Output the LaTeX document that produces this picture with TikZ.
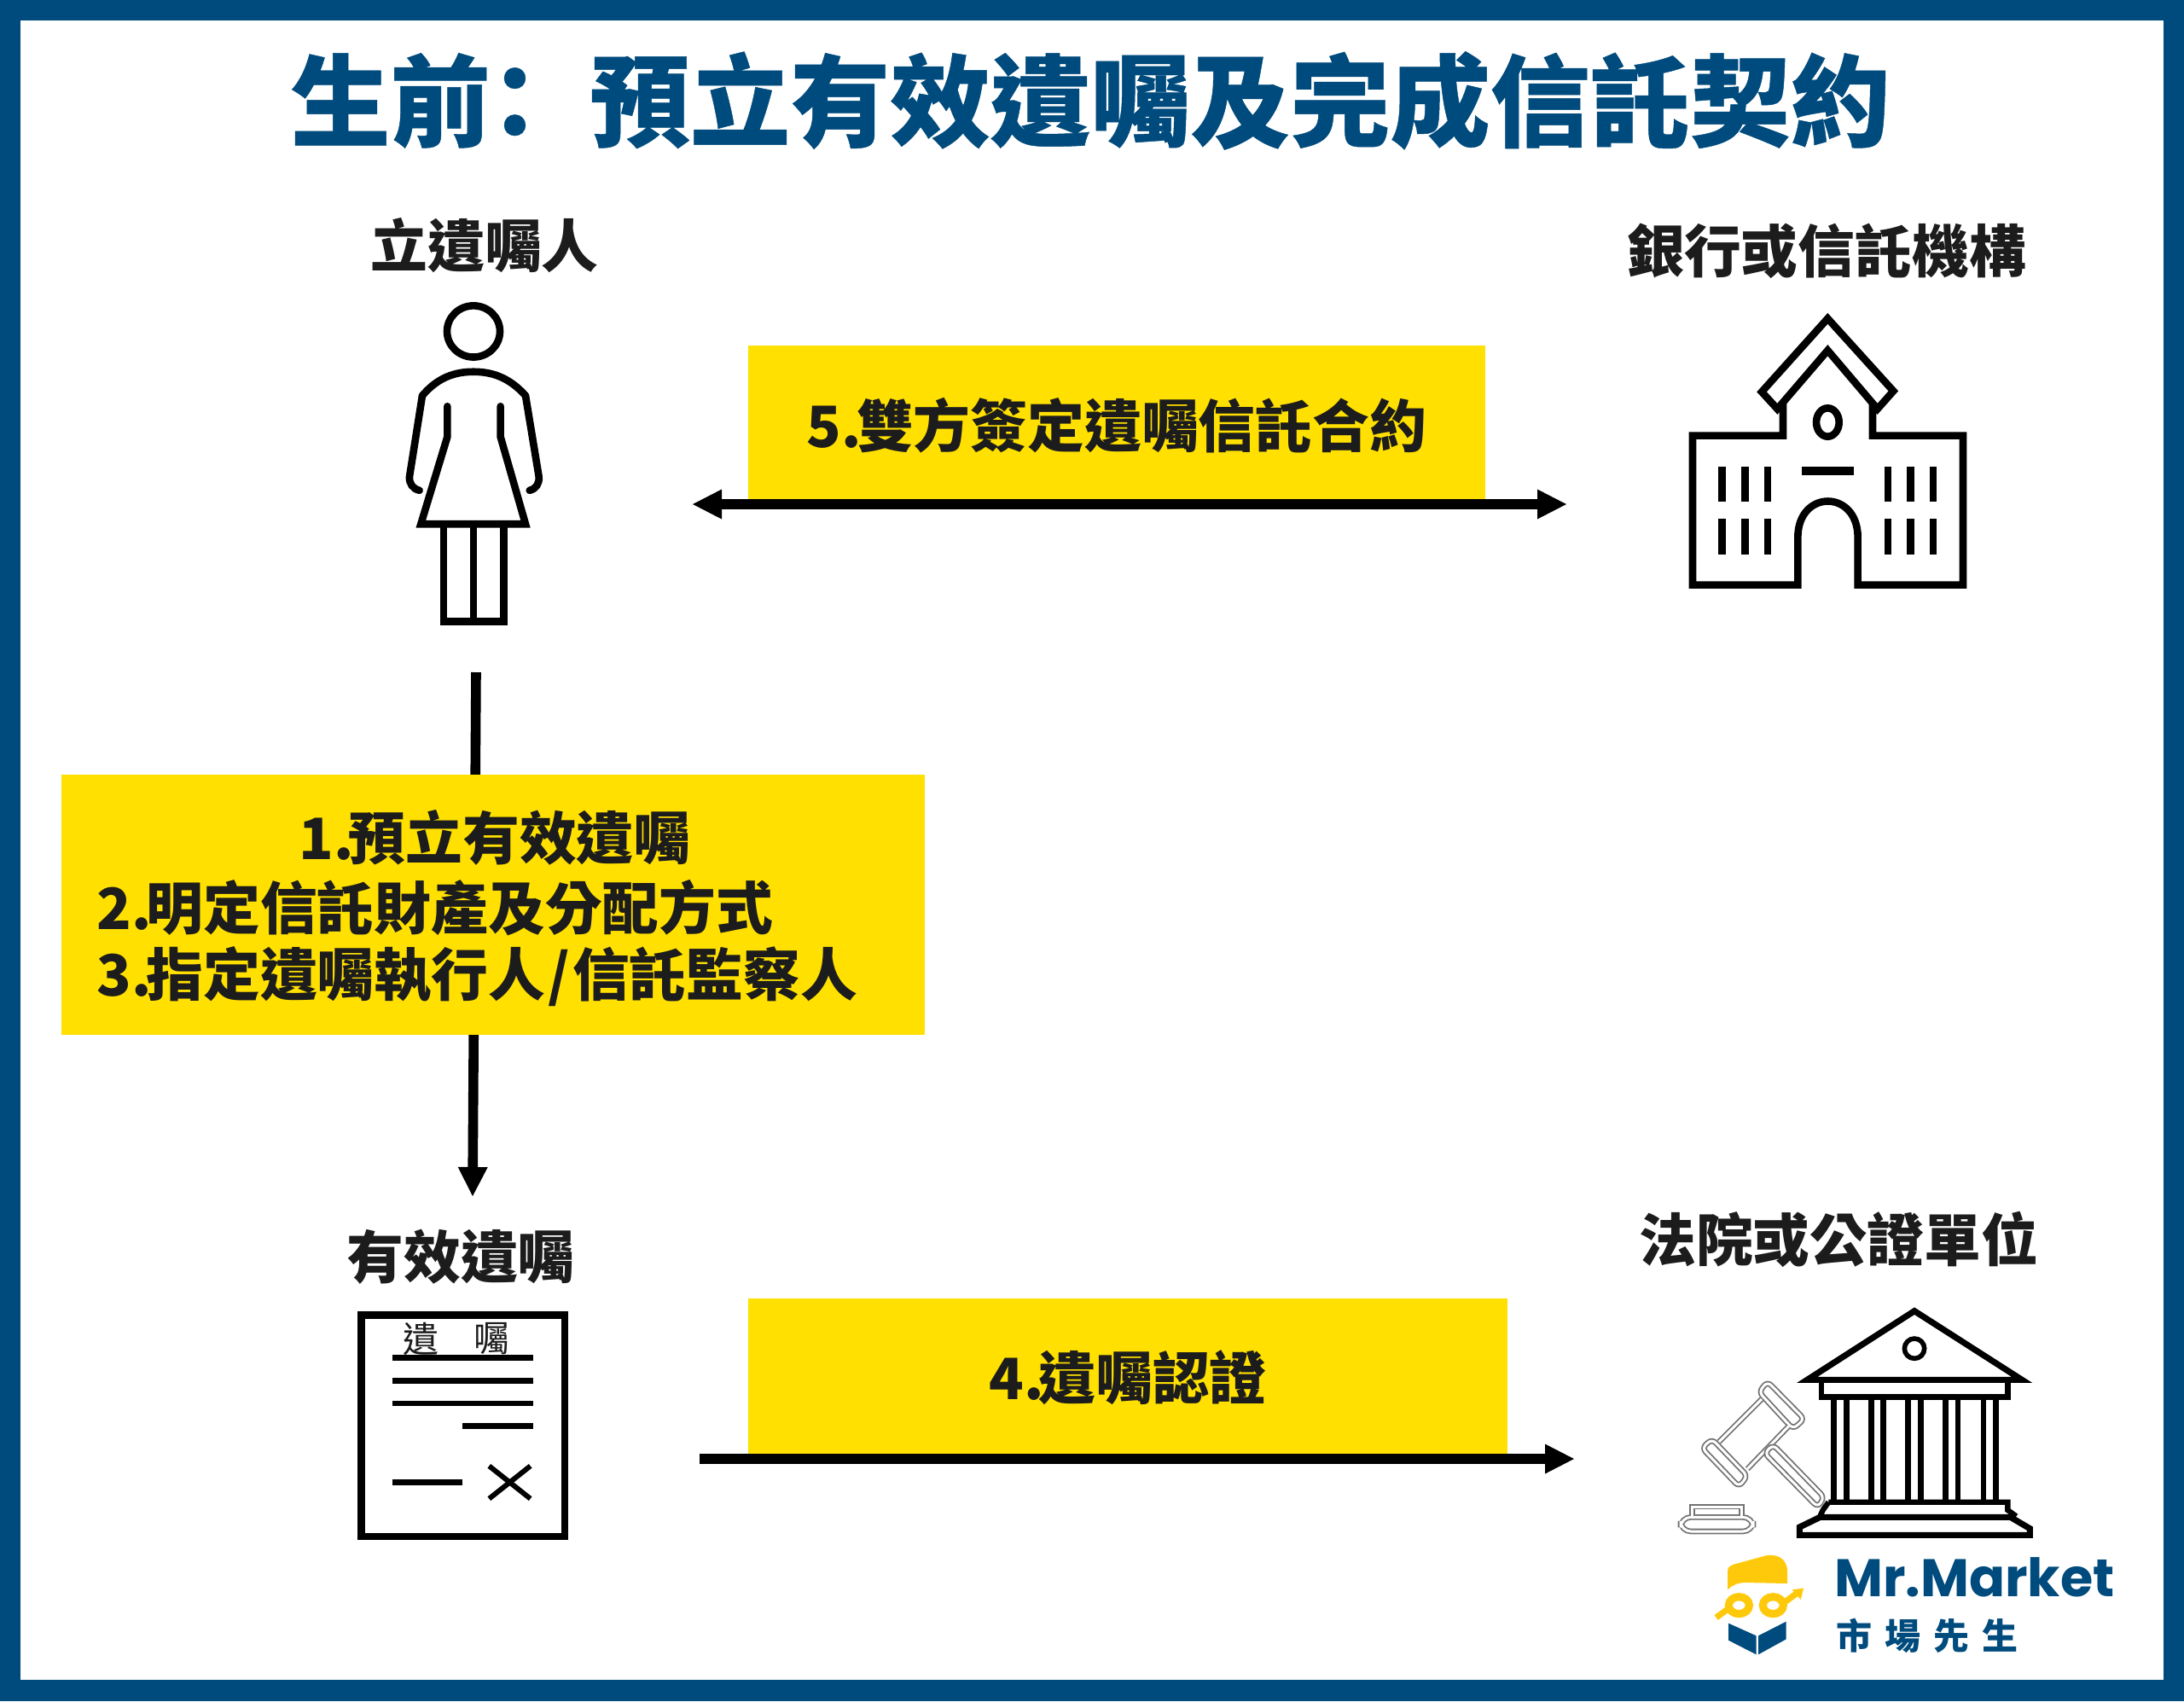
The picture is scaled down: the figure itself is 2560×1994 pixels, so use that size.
\documentclass[tikz,border=0pt]{standalone}
\usepackage{fontspec}
\usetikzlibrary{arrows.meta}
\setmainfont{Noto Sans CJK TC}
\newfontfamily\logofont{Poppins}
\definecolor{navy}{HTML}{004B7D}
\definecolor{boxyellow}{HTML}{FFE000}
\definecolor{hairyellow}{HTML}{FFC90B}
\definecolor{ink}{HTML}{1C1C1C}
\tikzset{
  lbl/.style={font=\fontsize{33.4}{36}\selectfont\bfseries,text=ink,inner sep=0pt},
  boxtxt/.style={font=\fontsize{33.4}{36}\selectfont\bfseries,text=ink,inner sep=0pt},
  ybox/.style={fill=boxyellow,draw=none,inner sep=0pt,anchor=north west},
  conn/.style={line width=5.8pt,black,-{Triangle[length=17pt,width=17.5pt,line width=0pt]}},
  connb/.style={line width=5.8pt,black,{Triangle[length=17pt,width=17.5pt,line width=0pt]}-{Triangle[length=17pt,width=17.5pt,line width=0pt]}},
  icon/.style={line width=4.3pt,black,line join=miter},
  gavel/.style={draw=black!55,line width=0.9pt,double=white,double distance=1.5pt,rounded corners=3pt}
}
\begin{document}
\begin{tikzpicture}[x=0.5pt,y=-0.5pt]
\useasboundingbox (0,0) rectangle (2560,1994);
\fill[navy] (0,0) rectangle (2560,1994);
\fill[white] (24,24) rectangle (2536,1969);
% title
\node[inner sep=0pt,text=navy,font=\fontsize{58.6}{62}\selectfont\bfseries\addfontfeature{FakeBold=0.4}] (title) at (1278,118) {生前\kern-15pt：\kern15pt預立有效遺囑及完成信託契約};
% labels
\node[lbl] (lblA) at (568,288) {立遺囑人};
\node[lbl] (lblB) at (2141,294) {銀行或信託機構};
\node[lbl] (lblC) at (540,1473) {有效遺囑};
\node[lbl] (lblD) at (2155,1453) {法院或公證單位};
% coordinates of connectors
\coordinate (dTop) at (558,788);
\coordinate (dEnd) at (554,1402);
\coordinate (sL) at (812,591);
\coordinate (sR) at (1836,591);
\coordinate (cL) at (820,1710);
\coordinate (cR) at (1845,1710);
\draw[conn] (dTop) -- (dEnd);
% yellow boxes
\node[ybox,minimum width=432pt,minimum height=90pt] (box5) at (877,405) {};
\node[ybox,minimum width=506pt,minimum height=152.5pt] (box1) at (72,908) {};
\node[ybox,minimum width=445pt,minimum height=91pt] (box4) at (877,1522) {};
\node[boxtxt] (t5) at (1309,499) {5.\kern-3pt雙方簽定遺囑信託合約};
\node[boxtxt] (t1) at (580,982) {1.\kern-3pt預立有效遺囑};
\node[boxtxt,anchor=west] (t2) at (113,1064) {2.\kern-3pt明定信託財產及分配方式};
\node[boxtxt,anchor=west] (t3) at (113,1145) {3.\kern-3pt指定遺囑執行人\kern1.6pt/\kern1.6pt信託監察人};
\node[boxtxt] (t4) at (1322,1615) {4.\kern-3pt遺囑認證};
\draw[connb] (sL) -- (sR);
\draw[conn] (cL) -- (cR);
% person
\begin{scope}[shift={(380,220)},x=0.16667pt,y=-0.1792pt]
\draw[icon] (525,470) ellipse [x radius=93,y radius=84];
\draw[icon,line cap=round] (335,990) .. controls (312,985) and (298,968) .. (300,945) -- (345,680);
\draw[icon,line cap=round] (345,680) .. controls (400,620) and (460,602) .. (525,602) .. controls (590,602) and (650,620) .. (708,680);
\draw[icon,line cap=round] (708,680) -- (755,945) .. controls (757,968) and (745,985) .. (722,990);
\draw[icon,line cap=round] (433,715) -- (433,815) -- (340,1100) -- (708,1100) -- (620,815) -- (620,715);
\draw[icon] (420,1100) -- (420,1418) -- (632,1418) -- (632,1100);
\draw[icon] (525,1100) -- (525,1418);
\end{scope}
% bank
\begin{scope}[shift={(1920,340)},x=0.16667pt,y=-0.16667pt]
\draw[icon] (667,100) -- (898,355) -- (842,418) -- (667,212) -- (490,418) -- (435,358) -- cycle;
\draw[icon] (510,395) -- (510,512) -- (192,512) -- (192,1037) -- (562,1037) -- (562,870) .. controls (562,700) and (773,700) .. (773,870) -- (773,1037) -- (1143,1037) -- (1143,512) -- (825,512) -- (825,395);
\draw[icon] (667,465) ellipse [x radius=40,y radius=50];
\draw[line width=5pt] (575,636) -- (760,636);
\foreach \xx in {296,376,456,879,958,1038}{
  \draw[line width=4.4pt] (\xx,620) -- (\xx,745);
  \draw[line width=4.4pt] (\xx,805) -- (\xx,930);
}
\end{scope}
% document
\begin{scope}[shift={(380,1500)},x=0.16667pt,y=-0.16667pt]
\draw[icon] (130,125) rectangle (846,903);
\foreach \yy in {275,355,435}{\draw[line width=3.4pt] (240,\yy) -- (735,\yy);}
\draw[line width=3.4pt] (487,515) -- (735,515);
\draw[line width=3.4pt] (240,713) -- (487,713);
\draw[line width=3pt] (580,655) -- (725,770);
\draw[line width=3pt] (725,655) -- (580,770);
\node[inner sep=0pt,font=\fontsize{21}{22}\selectfont,text=ink] (docA) at (340,208) {遺};
\node[inner sep=0pt,font=\fontsize{21}{22}\selectfont,text=ink] (docB) at (588,208) {囑};
\end{scope}
% court
\begin{scope}[shift={(1920,1500)},x=0.16667pt,y=-0.16667pt]
\draw[icon,line width=3.6pt] (972,110) -- (1350,352) -- (595,352) -- cycle;
\draw[line width=2.8pt] (972,242) circle (35);
\draw[line width=3.2pt] (645,355) -- (645,412) -- (1300,412) -- (1300,355);
\foreach \xx in {688,733,820,862,950,995,1082,1125,1215,1258}{\draw[line width=3.4pt] (\xx,412) -- (\xx,780);}
\draw[line width=3.2pt] (670,782) -- (1300,782) -- (1300,810) -- (1330,832);
\draw[line width=3.2pt] (670,782) -- (650,810) -- (640,832);
\draw[icon,line width=3.6pt] (640,835) -- (1310,835) -- (1378,875) -- (1378,898) -- (568,898) -- (568,870) -- cycle;
% gavel
\draw[gavel] (455,358) -- (585,490) -- (545,525) -- (425,395) -- cycle;
\draw[gavel] (260,560) -- (385,690) -- (355,728) -- (225,592) -- cycle;
\draw[gavel,rounded corners=0pt] (435,420) -- (285,570);
\draw[gavel,rounded corners=0pt] (530,515) -- (385,665);
\draw[gavel,rounded corners=3pt] (445,610) -- (475,580) -- (655,765) -- (632,800) -- cycle;
\draw[gavel,rounded corners=6pt] (150,835) -- (405,835) -- (405,885) -- (150,885) -- cycle;
\draw[gavel,rounded corners=0pt] (190,832) -- (190,798) -- (365,798) -- (365,832);
\end{scope}
% logo
\begin{scope}[shift={(1980,1800)},x=0.16667pt,y=-0.16667pt]
\fill[hairyellow] (135,125) .. controls (135,110) and (145,105) .. (160,100) -- (270,70) .. controls (320,62) and (345,90) .. (345,125) -- (345,168) -- (200,165) .. controls (170,165) and (150,175) .. (135,190) -- cycle;
\draw[hairyellow,line width=4.6pt] (175,245) ellipse [x radius=36,y radius=30];
\draw[hairyellow,line width=4.6pt] (295,245) ellipse [x radius=36,y radius=30];
\draw[hairyellow,line width=3.6pt] (95,288) -- (140,255);
\draw[hairyellow,line width=3.6pt] (330,238) -- (382,200);
\fill[hairyellow] (402,185) -- (362,190) -- (392,225) -- cycle;
\fill[navy] (138,308) -- (236,352) -- (236,418) -- (138,368) -- cycle;
\fill[navy] (243,352) -- (341,302) -- (341,364) -- (243,418) -- cycle;
\node[anchor=base west,inner sep=0pt,text=navy,font=\logofont\fontsize{31}{33}\selectfont\bfseries] (mr) at (510,215) {Mr.Market};
\node[anchor=west,inner sep=0pt,text=navy,font=\fontsize{21}{23}\selectfont\bfseries\addfontfeature{LetterSpace=36}] (cn) at (515,352) {市場先生};
\end{scope}
\end{tikzpicture}
\end{document}
